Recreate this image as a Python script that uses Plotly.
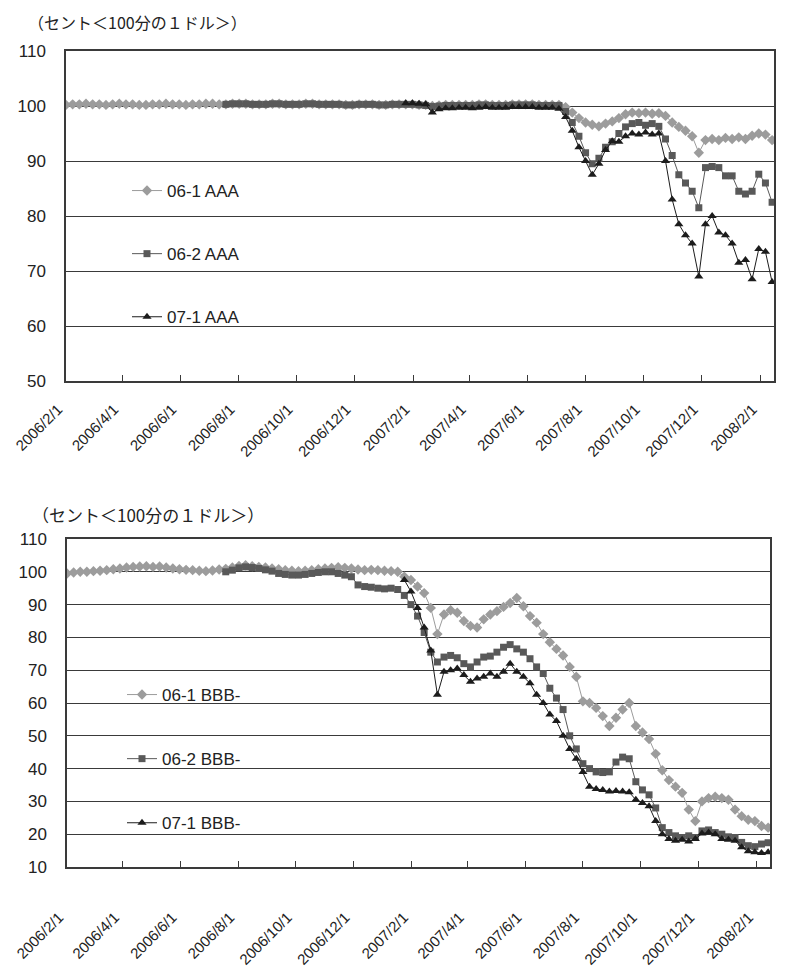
import pandas as pd
import plotly.graph_objects as go

# ---------------- data ----------------
weeks = pd.date_range("2006-02-01", periods=107, freq="7D")
start_06_2 = 24   # first week index of 06-2 series
start_07_1 = 51   # first week index of 07-1 series

tick_dates = ["2006-02-01", "2006-04-01", "2006-06-01", "2006-08-01", "2006-10-01",
              "2006-12-01", "2007-02-01", "2007-04-01", "2007-06-01", "2007-08-01",
              "2007-10-01", "2007-12-01", "2008-02-01"]
tick_labels = ["2006/2/1", "2006/4/1", "2006/6/1", "2006/8/1", "2006/10/1",
               "2006/12/1", "2007/2/1", "2007/4/1", "2007/6/1", "2007/8/1",
               "2007/10/1", "2007/12/1", "2008/2/1"]

aaa_06_1 = [100.2, 100.3, 100.3, 100.4, 100.3, 100.3, 100.2, 100.3, 100.4, 100.3,
            100.3, 100.2, 100.2, 100.3, 100.3, 100.4, 100.3, 100.3, 100.2, 100.3,
            100.3, 100.4, 100.4, 100.3, 100.3, 100.4, 100.4, 100.4, 100.3, 100.3,
            100.3, 100.4, 100.4, 100.3, 100.3, 100.3, 100.4, 100.4, 100.3, 100.3,
            100.3, 100.3, 100.2, 100.2, 100.3, 100.3, 100.3, 100.2, 100.2, 100.3,
            100.3, 100.3, 100.3, 100.2, 100.2, 100.0, 100.1, 100.2, 100.2, 100.2,
            100.2, 100.2, 100.3, 100.3, 100.2, 100.2, 100.2, 100.3, 100.3, 100.3,
            100.3, 100.2, 100.2, 100.2,
            100.2, 99.8, 98.8, 97.8, 97.0, 96.6, 96.3, 96.8, 97.2, 97.8,
            98.5, 98.8, 98.7, 98.8, 98.6, 98.7, 98.2, 97.0, 96.2, 95.5,
            94.5, 91.5, 93.8, 94.0, 93.8, 94.2, 94.0, 94.3, 94.0, 94.6,
            95.0, 94.8, 93.8]
aaa_06_2 = [100.3, 100.4, 100.4, 100.4, 100.3, 100.3, 100.3, 100.4, 100.4, 100.3,
            100.3, 100.3, 100.4, 100.4, 100.3, 100.3, 100.3, 100.3, 100.2, 100.2,
            100.3, 100.3, 100.3, 100.2, 100.2, 100.3, 100.3, 100.3, 100.3, 100.2,
            100.1, 99.9, 100.0, 100.1, 100.1, 100.1, 100.1, 100.1, 100.2, 100.2,
            100.1, 100.1, 100.1, 100.2, 100.2, 100.2, 100.2, 100.1, 100.1, 100.1,
            100.1, 99.0, 97.0, 94.5, 91.5, 89.5, 90.5, 92.5, 93.5, 95.0,
            96.2, 96.8, 97.0, 96.5, 96.8, 96.3, 94.0, 91.0, 87.5, 86.0,
            84.5, 81.5, 88.8, 89.0, 88.8, 87.3, 87.3, 84.5, 84.0, 84.5,
            87.6, 86.0, 82.5]
aaa_07_1 = [100.5, 100.5, 100.4, 100.3, 98.8, 99.4, 99.6, 99.6, 99.7, 99.7,
            99.6, 99.7, 99.8, 99.7, 99.7, 99.7, 99.8, 99.8, 99.8, 99.8,
            99.7, 99.7, 99.7,
            99.5, 98.0, 95.5, 92.5, 90.0, 87.5, 89.5, 92.0, 93.6, 93.5,
            94.5, 95.0, 94.8, 95.2, 94.8, 95.0, 90.0, 83.0, 78.5, 76.5,
            75.0, 69.0, 78.5, 80.0, 77.0, 76.5, 75.0, 71.5, 72.0, 68.5,
            74.0, 73.5, 68.0]

bbb_06_1 = [99.5, 99.8, 100.0, 100.0, 100.2, 100.3, 100.5, 100.8, 101.0, 101.3,
            101.5, 101.6, 101.7, 101.5, 101.6, 101.3, 101.0, 100.8, 100.6, 100.5,
            100.3, 100.2, 100.4, 100.7, 100.9, 101.3, 101.8, 102.0, 101.7, 101.5,
            101.3, 101.0, 100.8, 100.5, 100.3, 100.2, 100.3, 100.5, 100.8, 101.0,
            101.2, 101.4, 101.2, 101.0, 100.7, 100.5, 100.6, 100.5, 100.3,
            100.2, 100.0, 98.5, 97.5, 95.5, 93.5, 89.0, 81.0, 87.0, 88.3,
            87.5, 85.0, 83.5, 83.0, 85.5, 87.0, 88.0, 89.3, 90.5, 92.0,
            89.5, 86.5, 84.5, 81.0, 78.5, 76.5, 74.5, 71.0, 68.0, 60.5,
            60.0, 58.5, 56.0, 53.0, 55.5, 58.0, 60.0, 53.0, 51.0, 49.0,
            44.5, 39.5, 36.5, 34.5, 32.6, 27.5, 24.0, 30.0, 31.0, 31.4,
            31.0, 30.5, 27.5, 25.5, 24.4, 24.0, 22.5, 22.0]
bbb_06_2 = [100.0, 100.5, 101.2, 101.5, 101.3, 101.0, 100.6, 100.2, 99.5, 99.2,
            99.0, 99.0, 99.2, 99.5, 99.8, 100.0, 100.0, 99.5, 99.0, 98.5,
            96.0, 95.5, 95.3, 95.0, 94.8,
            95.0, 94.6, 92.8, 90.0, 86.5, 81.5, 75.5, 72.5, 74.0, 74.5,
            73.8, 72.0, 71.0, 72.5, 74.0, 74.3, 75.5, 77.0, 77.8, 76.5,
            75.5, 73.5, 71.0, 69.0, 64.5, 61.5, 58.0, 50.0, 46.0, 41.5,
            40.0, 39.0, 38.8, 39.0, 42.0, 43.5, 43.0, 36.0, 33.5, 32.0,
            28.0, 22.0, 20.5, 19.5, 19.0, 19.5, 19.0, 21.0, 21.3, 20.5,
            20.0, 19.2, 19.0, 17.5, 16.5, 16.2, 17.0, 17.4]
bbb_07_1 = [97.5, 94.0, 89.0, 83.0, 76.0, 62.5, 69.5, 70.0, 70.5, 68.5,
            66.5, 67.5, 68.0, 69.0, 68.0, 69.5, 72.0, 69.5, 68.0, 66.0,
            62.5, 60.0, 56.5, 54.5, 50.0, 46.0, 43.0, 39.0, 34.5, 33.8,
            33.5, 33.0, 33.2, 33.0, 32.8, 30.5, 29.5, 28.5, 24.0, 20.0,
            18.5, 18.0, 18.3, 17.8, 18.5, 20.2, 20.5, 20.0, 18.5, 18.3,
            18.0, 16.0, 14.8, 14.5, 14.3, 14.5]

names_top = ["06-1 AAA", "06-2 AAA", "07-1 AAA"]
names_bot = ["06-1 BBB-", "06-2 BBB-", "07-1 BBB-"]
unit_title = "（セント＜100分の１ドル＞）"

# ---------------- layout helpers ----------------
# the page body has an 8px margin, so the figure is drawn 8px in from the window edge
OFF = 8
W, H = 788 - OFF, 969 - OFF
PLOT_L, PLOT_R, PLOT_T, PLOT_B = 66, 774, 51, 867      # window coordinates
ML, MR = PLOT_L - OFF, W - (PLOT_R - OFF)
MT, MB = PLOT_T - OFF, H - (PLOT_B - OFF)
PW, PH = W - ML - MR, H - MT - MB


def px_x(x):
    return (x - PLOT_L) / PW


def px_y(y):
    return 1 - (y - PLOT_T) / PH


FONT = "Liberation Sans, Arial, sans-serif"
TXT = "#222222"
GRID = "#3a3a3a"

styles = [
    dict(symbol="diamond", color="#9c9c9c", size=8),
    dict(symbol="square", color="#595959", size=7),
    dict(symbol="triangle-up", color="#1c1c1c", size=8),
]

fig = go.Figure()

top_series = [(weeks, aaa_06_1), (weeks[start_06_2:], aaa_06_2), (weeks[start_07_1:], aaa_07_1)]
bot_series = [(weeks, bbb_06_1), (weeks[start_06_2:], bbb_06_2), (weeks[start_07_1:], bbb_07_1)]

for k, ((xs, ys), nm) in enumerate(zip(top_series, names_top)):
    st = styles[k]
    fig.add_trace(go.Scatter(
        x=xs, y=ys, name=nm, mode="lines+markers", xaxis="x", yaxis="y",
        line=dict(color=st["color"], width=1),
        marker=dict(symbol=st["symbol"], color=st["color"], size=st["size"]),
        legend="legend", legendgroup="t%d" % k,
    ))
for k, ((xs, ys), nm) in enumerate(zip(bot_series, names_bot)):
    st = styles[k]
    fig.add_trace(go.Scatter(
        x=xs, y=ys, name=nm, mode="lines+markers", xaxis="x2", yaxis="y2",
        line=dict(color=st["color"], width=1),
        marker=dict(symbol=st["symbol"], color=st["color"], size=st["size"]),
        legend="legend2", legendgroup="b%d" % k,
    ))

xrange_ = ["2006-02-01", "2008-02-15"]
common_x = dict(
    type="date", range=xrange_, tickmode="array", tickvals=tick_dates, ticktext=tick_labels,
    tickangle=-45, ticks="inside", ticklen=6, tickcolor=GRID, showgrid=False,
    showline=True, linecolor=GRID, linewidth=1.5, mirror=True, automargin=False,
    tickfont=dict(family=FONT, size=15, color=TXT), ticklabelshift=-8,
)
common_y = dict(
    dtick=10, showgrid=True, gridcolor=GRID, gridwidth=1.3, zeroline=False,
    showline=True, linecolor=GRID, linewidth=1.5, mirror=True, ticks="", automargin=False,
    tickfont=dict(family=FONT, size=17, color=TXT), ticklabelstandoff=15,
)

top_dom = [px_y(381), 1]
bot_dom = [0, px_y(539)]

fig.update_layout(
    width=W, height=H,
    margin=dict(l=ML, r=MR, t=MT, b=MB, autoexpand=False),
    paper_bgcolor="white", plot_bgcolor="white",
    font=dict(family=FONT, color=TXT),
    xaxis=dict(common_x, domain=[0, 1], anchor="y", ticklabelstandoff=12),
    yaxis=dict(common_y, domain=top_dom, range=[50, 110], anchor="x", tickvals=list(range(50, 111, 10))),
    xaxis2=dict(common_x, domain=[px_x(67), px_x(770)], anchor="y2", ticklabelstandoff=34),
    yaxis2=dict(common_y, domain=bot_dom, range=[10, 110], anchor="x2", tickvals=list(range(10, 111, 10))),
    legend=dict(x=px_x(127), y=px_y(173), xanchor="left", yanchor="top",
                bgcolor="rgba(0,0,0,0)", borderwidth=0, tracegroupgap=38,
                itemwidth=30, font=dict(family=FONT, size=17, color=TXT)),
    legend2=dict(x=px_x(122), y=px_y(677), xanchor="left", yanchor="top",
                 bgcolor="rgba(0,0,0,0)", borderwidth=0, tracegroupgap=39,
                 itemwidth=30, font=dict(family=FONT, size=17, color=TXT)),
    showlegend=True,
)

# white boxes behind the legends (hide gridlines there)
fig.add_shape(type="rect", xref="paper", yref="paper",
              x0=px_x(110), x1=px_x(275), y0=px_y(338), y1=px_y(168),
              fillcolor="white", line=dict(width=0), layer="between")
fig.add_shape(type="rect", xref="paper", yref="paper",
              x0=px_x(113), x1=px_x(267), y0=px_y(830), y1=px_y(684),
              fillcolor="white", line=dict(width=0), layer="between")

fig.add_annotation(text=unit_title, xref="paper", yref="paper", x=px_x(26), y=px_y(22),
                   xanchor="left", yanchor="middle", showarrow=False,
                   font=dict(family="Noto Sans CJK JP", size=16, color=TXT))
fig.add_annotation(text=unit_title, xref="paper", yref="paper", x=px_x(30), y=px_y(514),
                   xanchor="left", yanchor="middle", showarrow=False,
                   font=dict(family="Noto Sans CJK JP", size=17, color=TXT))

fig.write_html("out.html")
